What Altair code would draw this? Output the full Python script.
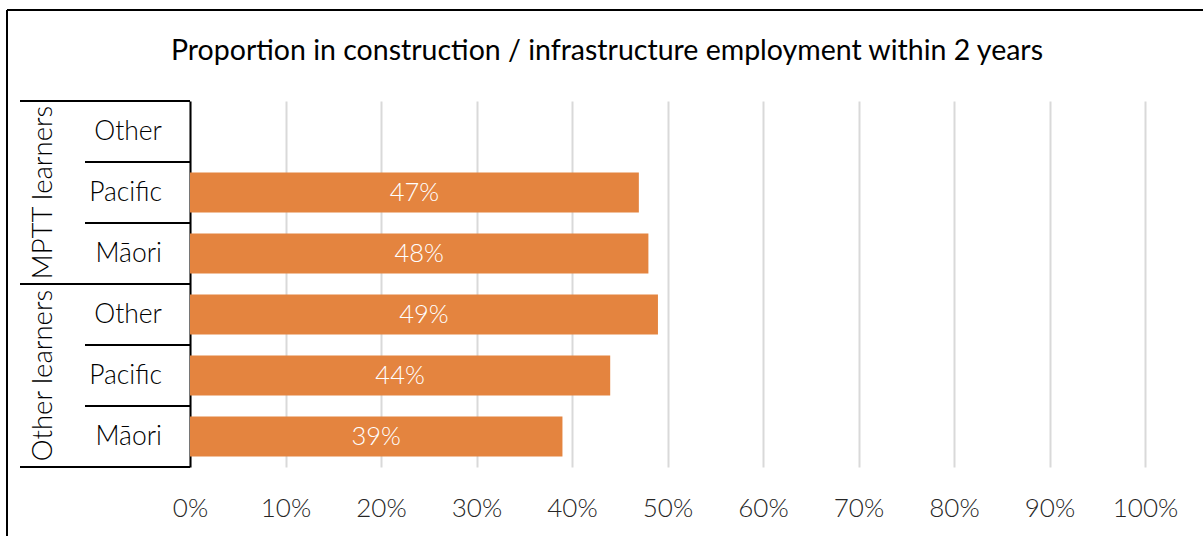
import altair as alt
import pandas as pd

groups = ["MPTT learners", "MPTT learners", "MPTT learners",
          "Other learners", "Other learners", "Other learners"]
subs = ["Other", "Pacific", "Māori", "Other", "Pacific", "Māori"]
values = [None, 0.47, 0.48, 0.49, 0.44, 0.39]
tick_values = [0, 0.1, 0.2, 0.3, 0.4, 0.5, 0.6, 0.7, 0.8, 0.9, 1.0]
title_text = "Proportion in construction / infrastructure employment within 2 years"

keys = [f"{g}|{s}" for g, s in zip(groups, subs)]
df = pd.DataFrame({"key": keys, "group": groups, "sub": subs, "value": values})
bars_df = df.dropna(subset=["value"]).copy()

group_names = ["MPTT learners", "Other learners"]
mid_keys = []
first_keys = []
for g in group_names:
    ks = [k for k, gg in zip(keys, groups) if gg == g]
    mid_keys.append(ks[len(ks) // 2])
    first_keys.append(ks[0])
grp_df = pd.DataFrame({"key": mid_keys, "group": group_names})
grp_top_df = pd.DataFrame({"key": first_keys})
sub_top_df = pd.DataFrame({"key": [k for k in keys if k not in first_keys]})
bottom_df = pd.DataFrame({"key": [keys[-1]]})

FONT = "Lato"
ORANGE = "#E4843F"

yscale = alt.Scale(domain=keys, paddingInner=0, paddingOuter=0)
xscale = alt.Scale(domain=[0, 1])

base = alt.Chart(df)

bars = alt.Chart(bars_df).mark_bar(color=ORANGE, size=40).encode(
    x=alt.X("value:Q", scale=xscale,
            axis=alt.Axis(values=tick_values, format=".0%", title=None,
                          grid=True, gridColor="#D9D9D9", gridWidth=2,
                          domain=False, ticks=False, labelFont=FONT,
                          labelFontSize=26, labelColor="#262626",
                          labelBaseline="middle", labelFlush=False,
                          labelPadding=41, labelFontWeight=300)),
    y=alt.Y("key:N", scale=yscale, sort=keys,
            axis=alt.Axis(labels=False, ticks=False, title=None,
                          domain=True, domainColor="#000000", domainWidth=2,
                          grid=False)),
)

bar_labels = alt.Chart(bars_df).transform_calculate(
    mid="datum.value / 2",
    lbl="format(datum.value, '.0%')",
).mark_text(color="white", font=FONT, fontSize=25.5, fontWeight=300,
            baseline="middle", align="center").encode(
    x=alt.X("mid:Q", scale=xscale),
    y=alt.Y("key:N", scale=yscale, sort=keys),
    text="lbl:N",
)

sub_labels = base.mark_text(font=FONT, fontSize=26.5, fontWeight=300,
                            color="#000000", align="right",
                            baseline="middle").encode(
    x=alt.value(-28),
    y=alt.Y("key:N", scale=yscale, sort=keys),
    text="sub:N",
)

grp_labels = alt.Chart(grp_df).mark_text(font=FONT, fontSize=27.5, fontWeight=300,
                                         color="#000000", angle=270,
                                         align="center", baseline="middle").encode(
    x=alt.value(-146),
    y=alt.Y("key:N", scale=yscale, sort=keys),
    text="group:N",
)

grp_rules = alt.Chart(grp_top_df).mark_rule(color="#000000", strokeWidth=2).encode(
    y=alt.Y("key:N", scale=yscale, sort=keys, bandPosition=0),
    x=alt.value(-170), x2=alt.value(0),
)
sub_rules = alt.Chart(sub_top_df).mark_rule(color="#000000", strokeWidth=2).encode(
    y=alt.Y("key:N", scale=yscale, sort=keys, bandPosition=0),
    x=alt.value(-105), x2=alt.value(0),
)
bottom_rule = alt.Chart(bottom_df).mark_rule(color="#000000", strokeWidth=2).encode(
    y=alt.Y("key:N", scale=yscale, sort=keys, bandPosition=1),
    x=alt.value(-170), x2=alt.value(0),
)

frame_top = alt.Chart(bottom_df).mark_rule(color="#000000", strokeWidth=2).encode(
    x=alt.value(-183), x2=alt.value(1100), y=alt.value(-91),
)
frame_left = alt.Chart(bottom_df).mark_rule(color="#000000", strokeWidth=2).encode(
    x=alt.value(-183), y=alt.value(-91), y2=alt.value(500),
)

title_mark = alt.Chart(bottom_df).mark_text(
    text=title_text, font=FONT, fontSize=28.5, color="#000000",
    align="center", baseline="middle").encode(
    x=alt.value(417), y=alt.value(-50),
)

chart = alt.layer(
    bars, bar_labels, sub_labels, grp_labels, grp_rules, sub_rules,
    bottom_rule, frame_top, frame_left, title_mark,
).properties(
    width=955, height=366,
    autosize=alt.AutoSizeParams(type="none"),
    padding={"left": 190, "top": 101, "right": 58, "bottom": 69},
    background="white",
).configure_view(stroke=None)

chart.save("out.html", embed_options={"renderer": "svg", "actions": False})
